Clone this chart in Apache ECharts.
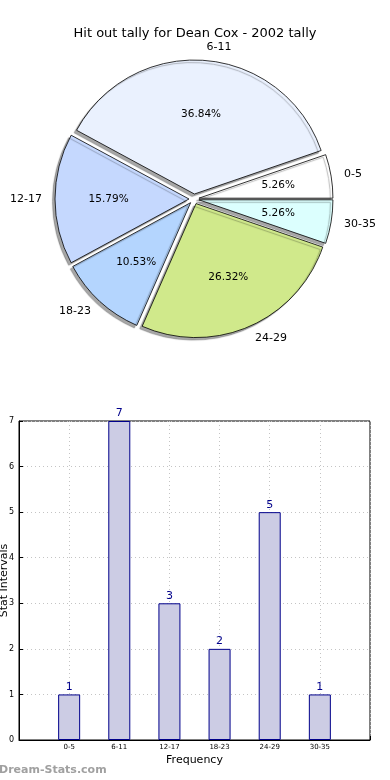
<!DOCTYPE html>
<html>
<head>
<meta charset="utf-8">
<script src="https://cdn.jsdelivr.net/npm/echarts@6/dist/echarts.min.js"></script>
<style>
html,body{margin:0;padding:0;background:#fff;}
#c{width:390px;height:780px;}
</style>
</head>
<body>
<div id="c"></div>
<script>
var titleText = 'Hit out tally for Dean Cox - 2002 tally';
var categories = ['0-5', '6-11', '12-17', '18-23', '24-29', '30-35'];
var counts = [1, 7, 3, 2, 5, 1];
var sliceColors = ['#ffffff', '#eaf1fe', '#c5d8fe', '#b4d5fe', '#d0e98b', '#dcfffe'];
var yTicks = [0, 1, 2, 3, 4, 5, 6, 7];
var xName = 'Frequency';
var yName = 'Stat Intervals';
var watermark = 'Dream-Stats.com';

var FONT = '"DejaVu Sans", sans-serif';
var chart = echarts.init(document.getElementById('c'), null, {renderer: 'canvas'});

var pieA = categories.map(function (c, i) {
  return {name: c, value: counts[i], selected: true, itemStyle: {color: sliceColors[i]}};
});
var pieB = categories.map(function (c, i) {
  return {name: c, value: counts[i], selected: true};
});
var bars = categories.map(function (c, i) { return [i + 1, counts[i]]; });

var R = 134;
var CX = 194, CY = 199;
var option = {
  animation: false,
  textStyle: {fontFamily: FONT},
  title: {
    text: titleText, left: 'center', top: 22,
    textStyle: {fontFamily: FONT, fontSize: 13, fontWeight: 'normal', color: '#000'}
  },
  graphic: [{
    type: 'text', left: -1, top: 765,
    style: {text: watermark, font: 'bold 11px "DejaVu Sans", sans-serif', fill: '#a0a0a0'}
  }],
  grid: {left: 19, right: 20, top: 421, bottom: 40, show: true, borderColor: '#000', borderWidth: 1,
         backgroundColor: 'transparent', outerBoundsMode: 'none', containLabel: false},
  xAxis: {
    type: 'value', min: 0, max: 7, interval: 1,
    name: xName, nameLocation: 'middle', nameGap: 15, nameMoveOverlap: false,
    nameTextStyle: {fontFamily: FONT, fontSize: 11, color: '#000'},
    axisLine: {show: true, lineStyle: {color: '#000'}},
    axisTick: {show: true, inside: true, length: 4, lineStyle: {color: '#000'}},
    axisLabel: {
      fontFamily: FONT, fontSize: 7, color: '#000', margin: 4,
      formatter: function (v) { return (v >= 1 && v <= categories.length) ? categories[v - 1] : ''; }
    },
    splitLine: {show: true, lineStyle: {color: '#c4c4c4', type: [1, 3], width: 1}}
  },
  yAxis: {
    type: 'value', min: yTicks[0], max: yTicks[yTicks.length - 1], interval: 1,
    name: yName, nameLocation: 'middle', nameGap: 9, nameRotate: 90, nameMoveOverlap: false,
    nameTextStyle: {fontFamily: FONT, fontSize: 11, color: '#000'},
    axisLine: {show: true, lineStyle: {color: '#000'}},
    axisTick: {show: true, inside: true, length: 4, lineStyle: {color: '#000'}},
    axisLabel: {fontFamily: FONT, fontSize: 8, color: '#000', margin: 5},
    splitLine: {show: true, lineStyle: {color: '#c4c4c4', type: [1, 3], width: 1}}
  },
  series: [
    {
      type: 'pie', center: [CX, CY], radius: [0, R],
      startAngle: 0, clockwise: false,
      selectedMode: 'multiple', selectedOffset: 5,
      avoidLabelOverlap: false, silent: true,
      itemStyle: {borderColor: '#000', borderWidth: 0.8, shadowColor: 'rgba(0,0,0,0.35)', shadowBlur: 1, shadowOffsetX: -2.5, shadowOffsetY: 2.5},
      label: {show: true, position: 'outside', formatter: '{b}', fontFamily: FONT, fontSize: 11, color: '#000', distanceToLabelLine: 0},
      labelLine: {show: false, length: Math.round(R * 0.1), length2: 0},
      emphasis: {disabled: true},
      data: pieA
    },
    {
      type: 'pie', center: [CX, CY], radius: [0, R * 1.2 - 6],
      startAngle: 0, clockwise: false,
      selectedMode: 'multiple', selectedOffset: 5,
      avoidLabelOverlap: false, silent: true,
      itemStyle: {color: 'rgba(0,0,0,0)', borderWidth: 0},
      label: {show: true, position: 'inside', formatter: '{d}%', fontFamily: FONT, fontSize: 10.5, color: '#000'},
      labelLine: {show: false},
      emphasis: {disabled: true},
      data: pieB
    },
    {
      type: 'bar', barWidth: 22,
      itemStyle: {color: '#ccccE4', borderColor: '#00008b', borderWidth: 1},
      label: {show: true, position: 'top', distance: 2, fontFamily: FONT, fontSize: 11, color: '#00008b'},
      data: bars
    }
  ]
};
chart.setOption(option);
</script>
</body>
</html>
